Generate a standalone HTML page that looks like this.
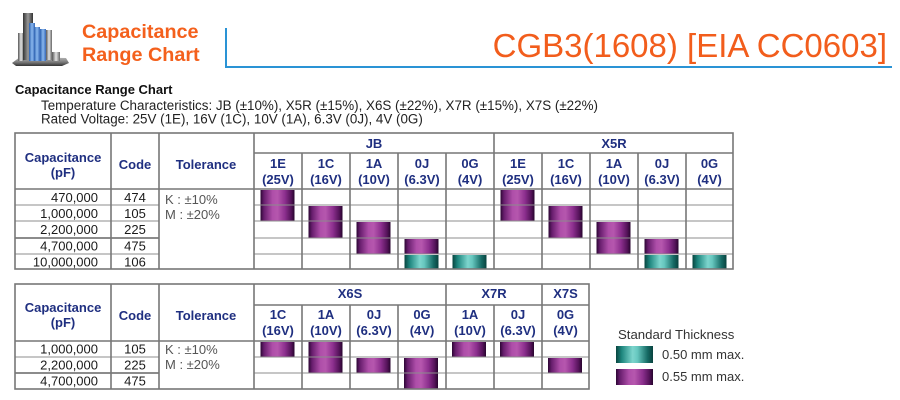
<!DOCTYPE html>
<html><head><meta charset="utf-8"><style>
html,body{margin:0;padding:0;background:#fff;}
svg{display:block;font-family:"Liberation Sans",Arial,sans-serif;}
</style></head><body>
<svg width="900" height="400" viewBox="0 0 900 400" xmlns="http://www.w3.org/2000/svg">
<defs>
<linearGradient id="pu" x1="0" x2="1" y1="0" y2="0">
<stop offset="0" stop-color="#2c0634"/><stop offset="0.1" stop-color="#661d6c"/><stop offset="0.35" stop-color="#ae4ea9"/><stop offset="0.5" stop-color="#b657ae"/><stop offset="0.72" stop-color="#8c2f8e"/><stop offset="0.9" stop-color="#55135a"/><stop offset="1" stop-color="#28052e"/>
</linearGradient>
<linearGradient id="te" x1="0" x2="1" y1="0" y2="0">
<stop offset="0" stop-color="#08443f"/><stop offset="0.15" stop-color="#1d857d"/><stop offset="0.45" stop-color="#7dd5cd"/><stop offset="0.58" stop-color="#66c7bf"/><stop offset="0.85" stop-color="#166b65"/><stop offset="1" stop-color="#08423e"/>
</linearGradient>
<linearGradient id="bl" x1="0" x2="1"><stop offset="0" stop-color="#2a5fb0"/><stop offset="0.5" stop-color="#8ab8ee"/><stop offset="1" stop-color="#3768b8"/></linearGradient>
<linearGradient id="gr" x1="0" x2="1"><stop offset="0" stop-color="#555"/><stop offset="0.5" stop-color="#e4e4e4"/><stop offset="1" stop-color="#666"/></linearGradient>
<linearGradient id="dk" x1="0" x2="1"><stop offset="0" stop-color="#333"/><stop offset="0.5" stop-color="#999"/><stop offset="1" stop-color="#333"/></linearGradient>
<linearGradient id="bs" x1="0" x2="0" y1="0" y2="1"><stop offset="0" stop-color="#bbb"/><stop offset="0.6" stop-color="#777"/><stop offset="1" stop-color="#333"/></linearGradient>
</defs>

<!-- logo -->
<polygon points="12,63 20,57 66,58 69,63 62,66 16,66" fill="url(#bs)"/>
<rect x="18" y="33" width="6" height="28" fill="url(#gr)"/>
<rect x="23" y="13" width="10" height="47" fill="url(#dk)"/>
<rect x="29" y="23" width="6" height="38" fill="url(#bl)"/>
<rect x="34" y="27" width="6" height="34" fill="url(#bl)"/>
<rect x="40" y="29" width="6" height="32" fill="url(#bl)"/>
<rect x="46" y="30" width="6" height="30" fill="url(#gr)"/>
<rect x="52" y="52" width="8" height="9" fill="url(#gr)"/>

<text x="82" y="38" font-size="19.8" font-weight="bold" fill="#f4601c">Capacitance</text>
<text x="82" y="61" font-size="19.8" font-weight="bold" fill="#f4601c">Range Chart</text>
<polyline points="226,28 226,67 892,67" fill="none" stroke="#2a93d5" stroke-width="2"/>
<text x="887" y="57" font-size="33" fill="#f25d1c" text-anchor="end">CGB3(1608) [EIA CC0603]</text>

<text x="15" y="94" font-size="13" font-weight="bold" fill="#111">Capacitance Range Chart</text>
<text x="41" y="110" font-size="13.4" fill="#222">Temperature Characteristics: JB (±10%), X5R (±15%), X6S (±22%), X7R (±15%), X7S (±22%)</text>
<text x="41" y="123.5" font-size="13.4" fill="#222">Rated Voltage: 25V (1E), 16V (1C), 10V (1A), 6.3V (0J), 4V (0G)</text>

<!-- TABLE 1 bars -->
<g>
<rect x="260.5" y="190" width="34" height="31" fill="url(#pu)"/>
<rect x="308.5" y="206" width="34" height="32" fill="url(#pu)"/>
<rect x="356.5" y="222" width="34" height="32" fill="url(#pu)"/>
<rect x="404.5" y="239" width="34" height="15" fill="url(#pu)"/>
<rect x="404.5" y="255" width="34" height="14" fill="url(#te)"/>
<rect x="452.5" y="255" width="34" height="14" fill="url(#te)"/>
<rect x="500.5" y="190" width="34" height="31" fill="url(#pu)"/>
<rect x="548.5" y="206" width="34" height="32" fill="url(#pu)"/>
<rect x="596.5" y="222" width="34" height="32" fill="url(#pu)"/>
<rect x="644.5" y="239" width="34" height="15" fill="url(#pu)"/>
<rect x="644.5" y="255" width="34" height="14" fill="url(#te)"/>
<rect x="692.5" y="255" width="34" height="14" fill="url(#te)"/>
</g>
<!-- TABLE 1 grid -->
<g stroke="#8c8c8c" stroke-width="1" fill="none">
<line x1="15" y1="205" x2="159" y2="205"/><line x1="254" y1="205" x2="733" y2="205"/>
<line x1="15" y1="221" x2="159" y2="221"/><line x1="254" y1="221" x2="733" y2="221"/>
<line x1="15" y1="238" x2="159" y2="238" stroke="#666" stroke-width="1.5"/><line x1="254" y1="238" x2="733" y2="238"/>
<line x1="15" y1="254" x2="159" y2="254"/><line x1="254" y1="254" x2="733" y2="254"/>
</g>
<g stroke="#777" stroke-width="1.6" fill="none">
<rect x="15" y="133" width="718" height="136"/>
<line x1="15" y1="189" x2="733" y2="189"/>
<line x1="254" y1="153" x2="733" y2="153"/>
<line x1="111" y1="133" x2="111" y2="269"/>
<line x1="159" y1="133" x2="159" y2="269"/>
<line x1="254" y1="133" x2="254" y2="269"/>
<line x1="494" y1="133" x2="494" y2="269"/>
<line x1="302" y1="153" x2="302" y2="269"/>
<line x1="350" y1="153" x2="350" y2="269"/>
<line x1="398" y1="153" x2="398" y2="269"/>
<line x1="446" y1="153" x2="446" y2="269"/>
<line x1="542" y1="153" x2="542" y2="269"/>
<line x1="590" y1="153" x2="590" y2="269"/>
<line x1="638" y1="153" x2="638" y2="269"/>
<line x1="686" y1="153" x2="686" y2="269"/>
</g>
<g font-size="13" font-weight="bold" fill="#1f2f80" text-anchor="middle">
<text x="63" y="162">Capacitance</text><text x="63" y="177">(pF)</text>
<text x="135" y="169">Code</text><text x="206" y="169">Tolerance</text>
<text x="374" y="148">JB</text><text x="614" y="148">X5R</text>
<text x="278" y="168">1E</text><text x="278" y="184">(25V)</text>
<text x="326" y="168">1C</text><text x="326" y="184">(16V)</text>
<text x="374" y="168">1A</text><text x="374" y="184">(10V)</text>
<text x="422" y="168">0J</text><text x="422" y="184">(6.3V)</text>
<text x="470" y="168">0G</text><text x="470" y="184">(4V)</text>
<text x="518" y="168">1E</text><text x="518" y="184">(25V)</text>
<text x="566" y="168">1C</text><text x="566" y="184">(16V)</text>
<text x="614" y="168">1A</text><text x="614" y="184">(10V)</text>
<text x="662" y="168">0J</text><text x="662" y="184">(6.3V)</text>
<text x="709.5" y="168">0G</text><text x="709.5" y="184">(4V)</text>
</g>
<g font-size="13" fill="#1a1a1a">
<g text-anchor="end">
<text x="98" y="202">470,000</text><text x="98" y="218">1,000,000</text><text x="98" y="234">2,200,000</text><text x="98" y="250.5">4,700,000</text><text x="98" y="266.5">10,000,000</text>
</g>
<g text-anchor="middle">
<text x="135" y="202">474</text><text x="135" y="218">105</text><text x="135" y="234">225</text><text x="135" y="250.5">475</text><text x="135" y="266.5">106</text>
</g>
</g>
<text x="165" y="204" font-size="13" fill="#555">K : ±10%</text>
<text x="165" y="219" font-size="13" fill="#555">M : ±20%</text>

<!-- TABLE 2 bars -->
<g>
<rect x="260.5" y="342" width="34" height="15" fill="url(#pu)"/>
<rect x="308.5" y="342" width="34" height="31" fill="url(#pu)"/>
<rect x="356.5" y="358" width="34" height="15" fill="url(#pu)"/>
<rect x="404" y="358" width="34" height="31" fill="url(#pu)"/>
<rect x="452" y="342" width="34" height="15" fill="url(#pu)"/>
<rect x="500" y="342" width="34" height="15" fill="url(#pu)"/>
<rect x="548" y="358" width="34" height="15" fill="url(#pu)"/>
</g>
<g stroke="#8c8c8c" stroke-width="1" fill="none">
<line x1="15" y1="357" x2="159" y2="357"/><line x1="254" y1="357" x2="589" y2="357"/>
<line x1="15" y1="373" x2="159" y2="373" stroke="#666" stroke-width="1.5"/><line x1="254" y1="373" x2="589" y2="373"/>
</g>
<g stroke="#777" stroke-width="1.6" fill="none">
<rect x="15" y="284" width="574" height="105"/>
<line x1="15" y1="341" x2="589" y2="341"/>
<line x1="254" y1="305" x2="589" y2="305"/>
<line x1="111" y1="284" x2="111" y2="389"/>
<line x1="159" y1="284" x2="159" y2="389"/>
<line x1="254" y1="284" x2="254" y2="389"/>
<line x1="446" y1="284" x2="446" y2="389"/>
<line x1="542" y1="284" x2="542" y2="389"/>
<line x1="302" y1="305" x2="302" y2="389"/>
<line x1="350" y1="305" x2="350" y2="389"/>
<line x1="398" y1="305" x2="398" y2="389"/>
<line x1="494" y1="305" x2="494" y2="389"/>
</g>
<g font-size="13" font-weight="bold" fill="#1f2f80" text-anchor="middle">
<text x="63" y="312">Capacitance</text><text x="63" y="327">(pF)</text>
<text x="135" y="320">Code</text><text x="206" y="320">Tolerance</text>
<text x="350" y="298">X6S</text><text x="494" y="298">X7R</text><text x="565.5" y="298">X7S</text>
<text x="278" y="319">1C</text><text x="278" y="335">(16V)</text>
<text x="326" y="319">1A</text><text x="326" y="335">(10V)</text>
<text x="374" y="319">0J</text><text x="374" y="335">(6.3V)</text>
<text x="422" y="319">0G</text><text x="422" y="335">(4V)</text>
<text x="470" y="319">1A</text><text x="470" y="335">(10V)</text>
<text x="518" y="319">0J</text><text x="518" y="335">(6.3V)</text>
<text x="565.5" y="319">0G</text><text x="565.5" y="335">(4V)</text>
</g>
<g font-size="13" fill="#1a1a1a">
<g text-anchor="end">
<text x="98" y="353.5">1,000,000</text><text x="98" y="369.5">2,200,000</text><text x="98" y="385.5">4,700,000</text>
</g>
<g text-anchor="middle">
<text x="135" y="353.5">105</text><text x="135" y="369.5">225</text><text x="135" y="385.5">475</text>
</g>
</g>
<text x="165" y="354" font-size="13" fill="#555">K : ±10%</text>
<text x="165" y="369" font-size="13" fill="#555">M : ±20%</text>

<!-- legend -->
<text x="618" y="339" font-size="13.2" fill="#333">Standard Thickness</text>
<rect x="616" y="346" width="37" height="17" fill="url(#te)"/>
<rect x="616" y="369" width="37" height="16" fill="url(#pu)"/>
<text x="662" y="359" font-size="13" fill="#333">0.50 mm max.</text>
<text x="662" y="381" font-size="13" fill="#333">0.55 mm max.</text>
</svg>
</body></html>
